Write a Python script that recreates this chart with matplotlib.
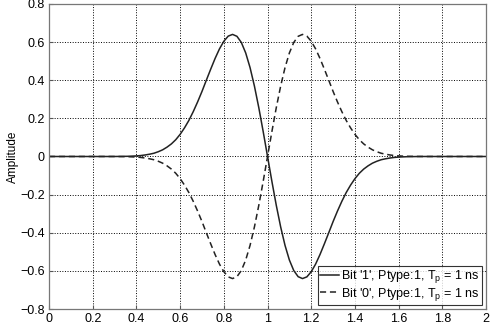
import matplotlib
matplotlib.use("Agg")
import matplotlib.pyplot as plt

plt.rcParams["font.family"] = ["Liberation Sans", "DejaVu Sans"]
plt.rcParams["mathtext.fontset"] = "custom"
plt.rcParams["mathtext.rm"] = "Liberation Sans"
plt.rcParams["mathtext.it"] = "Liberation Sans"

# ---------------------------------------------------------
# DATA
# ---------------------------------------------------------
t = [0.00, 0.10, 0.20, 0.30, 0.36, 0.40, 0.42, 0.44, 0.46, 0.48,
     0.50, 0.52, 0.54, 0.56, 0.58, 0.60, 0.62, 0.64, 0.66, 0.68,
     0.70, 0.72, 0.74, 0.76, 0.78, 0.80, 0.82, 0.84, 0.86, 0.88,
     0.90, 0.92, 0.94, 0.96, 0.98, 1.00, 1.02, 1.04, 1.06, 1.08,
     1.10, 1.12, 1.14, 1.16, 1.18, 1.20, 1.22, 1.24, 1.26, 1.28,
     1.30, 1.32, 1.34, 1.36, 1.38, 1.40, 1.42, 1.44, 1.46, 1.48,
     1.50, 1.52, 1.54, 1.56, 1.58, 1.60, 1.64, 1.70, 1.80, 1.90, 2.00]

bit1 = [0.000, 0.000, 0.000, 0.000, 0.001, 0.003, 0.005, 0.008, 0.012, 0.017,
        0.025, 0.035, 0.049, 0.066, 0.088, 0.116, 0.150, 0.189, 0.235, 0.286,
        0.341, 0.400, 0.458, 0.514, 0.564, 0.604, 0.631, 0.640, 0.630, 0.598,
        0.543, 0.466, 0.369, 0.256, 0.131, 0.000, -0.131, -0.256, -0.369, -0.466,
        -0.543, -0.598, -0.630, -0.640, -0.631, -0.604, -0.564, -0.514, -0.458, -0.400,
        -0.341, -0.286, -0.235, -0.189, -0.150, -0.116, -0.088, -0.066, -0.049, -0.035,
        -0.025, -0.017, -0.012, -0.008, -0.005, -0.003, -0.001, 0.000, 0.000, 0.000, 0.000]

bit0 = [0.000, 0.000, 0.000, 0.000, -0.001, -0.003, -0.005, -0.008, -0.012, -0.017,
        -0.025, -0.035, -0.049, -0.066, -0.088, -0.116, -0.150, -0.189, -0.235, -0.286,
        -0.341, -0.400, -0.458, -0.514, -0.564, -0.604, -0.631, -0.640, -0.630, -0.598,
        -0.543, -0.466, -0.369, -0.256, -0.131, 0.000, 0.131, 0.256, 0.369, 0.466,
        0.543, 0.598, 0.630, 0.640, 0.631, 0.604, 0.564, 0.514, 0.458, 0.400,
        0.341, 0.286, 0.235, 0.189, 0.150, 0.116, 0.088, 0.066, 0.049, 0.035,
        0.025, 0.017, 0.012, 0.008, 0.005, 0.003, 0.001, 0.000, 0.000, 0.000, 0.000]

labels = ["Bit '1', Ptype:1, $T_\\mathrm{p}$ = 1 ns",
          "Bit '0', Ptype:1, $T_\\mathrm{p}$ = 1 ns"]

xticks = [0, 0.2, 0.4, 0.6, 0.8, 1, 1.2, 1.4, 1.6, 1.8, 2]
xticklabels = ["0", "0.2", "0.4", "0.6", "0.8", "1", "1.2", "1.4", "1.6", "1.8", "2"]
yticks = [-0.8, -0.6, -0.4, -0.2, 0, 0.2, 0.4, 0.6, 0.8]
yticklabels = ["\u22120.8", "\u22120.6", "\u22120.4", "\u22120.2", "0", "0.2", "0.4", "0.6", "0.8"]

# ---------------------------------------------------------
# PLOT
# ---------------------------------------------------------
fig = plt.figure(figsize=(4.9, 3.24), dpi=100)
ax = fig.add_axes([0.1, 0.046, 0.892, 0.942])

ax.plot(t, bit1, color="#222222", linewidth=1.1, linestyle="-", label=labels[0])
ax.plot(t, bit0, color="#222222", linewidth=1.1, linestyle=(0, (4, 2.5)), label=labels[1])

ax.set_xlim(0, 2)
ax.set_ylim(-0.8, 0.8)
ax.set_xticks(xticks, xticklabels)
ax.set_yticks(yticks, yticklabels)
ax.tick_params(direction="in", labelsize=9, length=3, color="#555555", pad=3)
ax.grid(True, color="black", linestyle=":", linewidth=0.7)

for spine in ax.spines.values():
    spine.set_color("#777777")
    spine.set_linewidth(0.9)

ax.set_ylabel("Amplitude", fontsize=8.5, labelpad=1)

leg = ax.legend(loc="lower right", fontsize=9, frameon=True, fancybox=False,
                handlelength=1.5, handletextpad=0.2, borderpad=0.2,
                labelspacing=0.05, borderaxespad=0.3)
leg.get_frame().set_edgecolor("black")
leg.get_frame().set_linewidth(0.8)

fig.savefig("out.png", dpi=100)
